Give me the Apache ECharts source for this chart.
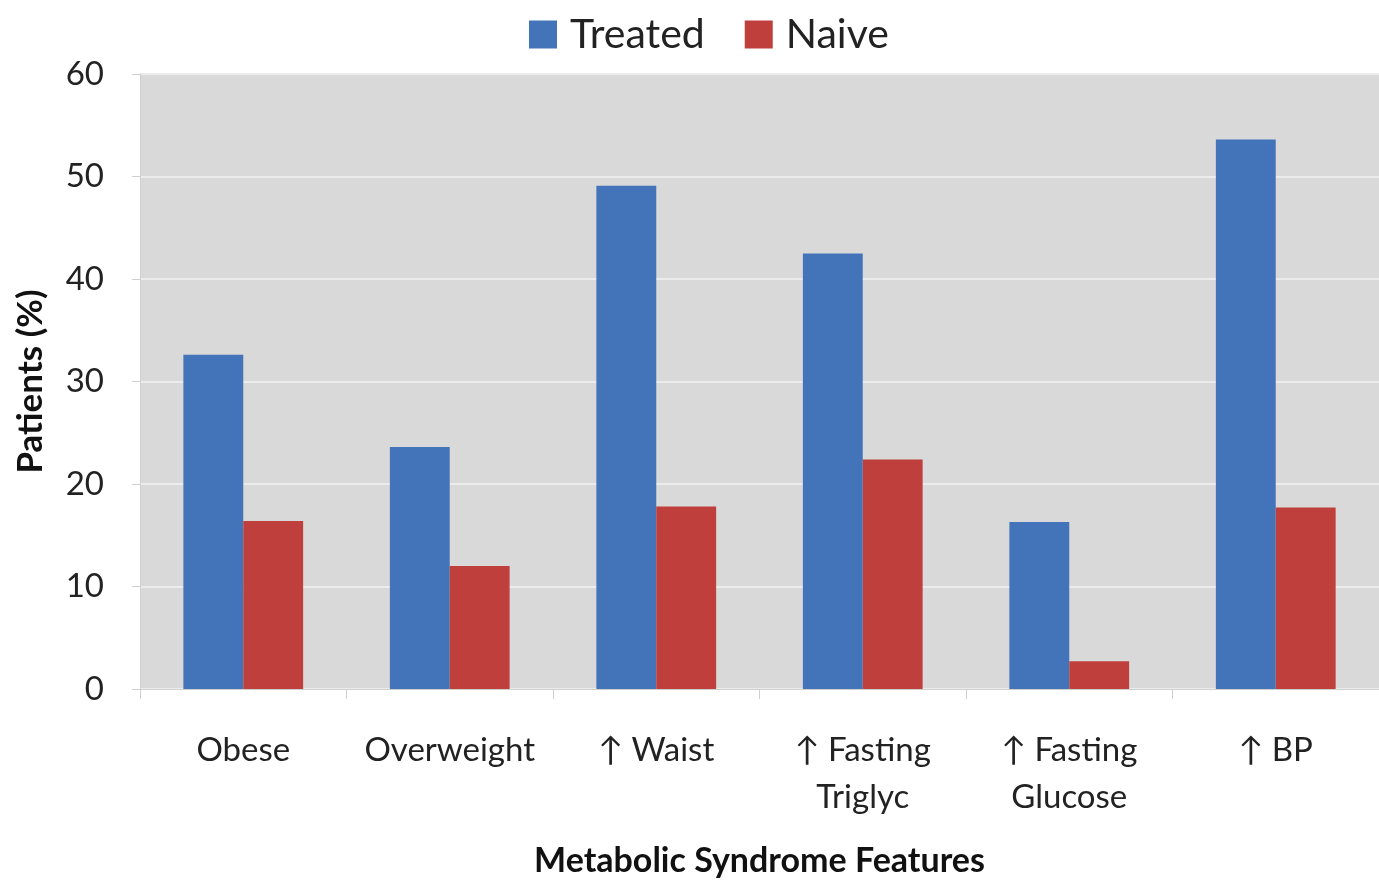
<!DOCTYPE html>
<html>
<head>
<meta charset="utf-8">
<script src="https://cdn.jsdelivr.net/npm/echarts@6/dist/echarts.min.js"></script>
<style>html,body{margin:0;padding:0;background:#fff;}#c{width:1379px;height:882px;}</style>
</head>
<body>
<div id="c"></div>
<script>
var categories = ['Obese', 'Overweight', '↑ Waist', '↑ Fasting\nTriglyc', '↑ Fasting\nGlucose', '↑ BP'];
var treated = [32.6, 23.6, 49.1, 42.5, 16.3, 53.6];
var naive = [16.4, 12.0, 17.8, 22.4, 2.7, 17.7];
var yTicks = [0, 10, 20, 30, 40, 50, 60];

var FONT = 'Lato, "Open Sans", sans-serif';
var chart = echarts.init(document.getElementById('c'));
chart.setOption({
  animation: false,
  legend: {
    top: 9, left: 524,
    icon: 'rect',
    itemWidth: 28, itemHeight: 28, itemGap: 40,
    textStyle: { fontFamily: FONT, fontSize: 41, color: '#222', padding: [0, 0, 0, 8] },
    data: ['Treated', 'Naive']
  },
  grid: {
    left: 140, right: 0, top: 74, bottom: 193,
    outerBoundsMode: 'none',
    containLabel: false,
    show: true, backgroundColor: '#D9D9D9', borderWidth: 0
  },
  xAxis: {
    type: 'category',
    data: categories,
    name: 'Metabolic Syndrome Features',
    nameLocation: 'middle',
    nameGap: 155,
    nameTextStyle: { fontFamily: FONT, fontSize: 34, fontWeight: 'bold', color: '#111' },
    axisLine: { show: true, lineStyle: { color: '#cfcfcf', width: 1 } },
    axisTick: { show: true, length: 10, lineStyle: { color: '#cfcfcf' } },
    axisLabel: { fontFamily: FONT, fontSize: 33, color: '#222', margin: 38, lineHeight: 47, interval: 0 }
  },
  yAxis: {
    type: 'value',
    min: 0, max: 60, interval: 10,
    name: 'Patients (%)',
    nameLocation: 'middle',
    nameGap: 92,
    nameTextStyle: { fontFamily: FONT, fontSize: 35, fontWeight: 'bold', color: '#111' },
    axisLine: { show: true, lineStyle: { color: '#cfcfcf', width: 1 } },
    axisTick: { show: true, length: 8, lineStyle: { color: '#cfcfcf' } },
    splitLine: { show: true, lineStyle: { color: '#ECECEC', width: 2 } },
    axisLabel: {
      fontFamily: FONT, fontSize: 33, color: '#222', margin: 36,
      formatter: function (v) { return yTicks.indexOf(v) >= 0 ? String(v) : ''; }
    }
  },
  series: [
    { name: 'Treated', type: 'bar', data: treated, barGap: '0%', barCategoryGap: '42%',
      itemStyle: { color: '#4374B9' } },
    { name: 'Naive', type: 'bar', data: naive,
      itemStyle: { color: '#BE3F3B' } }
  ]
});
</script>
</body>
</html>
